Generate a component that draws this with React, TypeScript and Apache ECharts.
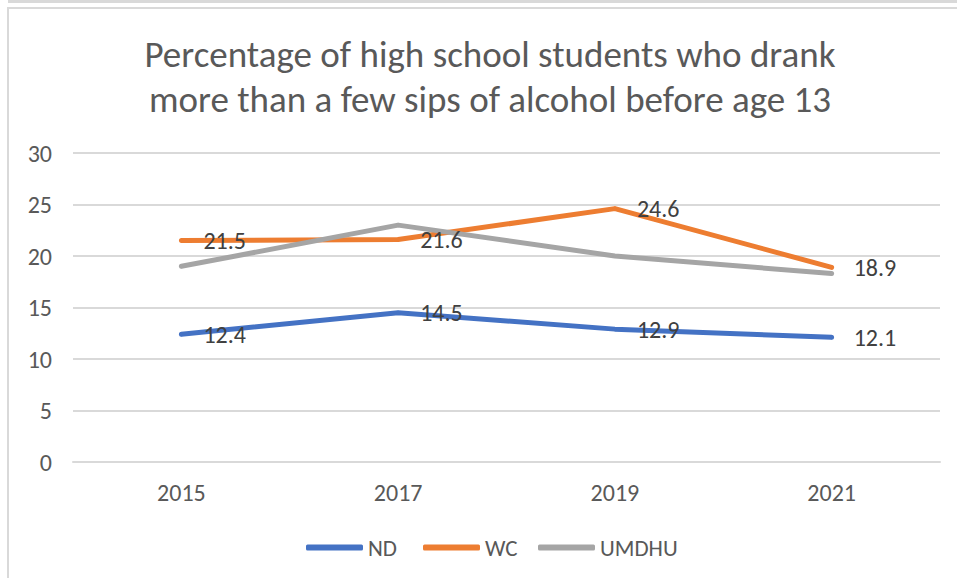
import React, { useEffect, useRef } from "react";
import * as echarts from "echarts";

const years = ["2015", "2017", "2019", "2021"];
const ndValues = [12.4, 14.5, 12.9, 12.1];
const wcValues = [21.5, 21.6, 24.6, 18.9];
const umdhuValues = [19.0, 23.0, 20.0, 18.3];
const seriesNames = ["ND", "WC", "UMDHU"];
const titleText = "Percentage of high school students who drank\nmore than a few sips of alcohol before age 13";

const FONT = "Carlito, Lato, 'Noto Sans', sans-serif";
const legendLefts = [306, 423, 538];

export default function App() {
  const ref = useRef<HTMLDivElement>(null);
  useEffect(() => {
    if (!ref.current) return;
    const chart = echarts.init(ref.current, undefined, { renderer: "svg" });
    const labelCfg = {
      show: true,
      position: "right",
      distance: 20,
      color: "#404040",
      fontSize: 24,
      fontFamily: FONT,
    };
    const mk = (name: string, data: number[], color: string, withLabel: boolean) => ({
      name,
      type: "line",
      data,
      symbol: "circle",
      symbolSize: 4,
      showSymbol: true,
      itemStyle: { color },
      lineStyle: { color, width: 5, cap: "round", join: "round" },
      label: withLabel ? labelCfg : { show: false },
      emphasis: { disabled: true },
      z: 3,
    });
    chart.setOption({
      animation: false,
      backgroundColor: "#ffffff",
      textStyle: { fontFamily: FONT },
      graphic: [
        { type: "rect", shape: { x: 8, y: 0, width: 960, height: 3 }, style: { fill: "#d9d9d9" }, silent: true },
        { type: "rect", shape: { x: 8, y: 8, width: 960, height: 600 }, style: { fill: "none", stroke: "#d9d9d9", lineWidth: 2 }, silent: true },
        {
          type: "text",
          x: 490,
          y: 32,
          silent: true,
          style: {
            text: titleText,
            align: "center",
            verticalAlign: "top",
            fontFamily: FONT,
            fontSize: 37,
            lineHeight: 45,
            fill: "#595959",
          },
        },
      ],
      legend: seriesNames.map((n, i) => ({
        data: [n],
        left: legendLefts[i],
        top: 536,
        padding: 0,
        icon: "roundRect",
        itemWidth: 57,
        itemHeight: 6,
        selectedMode: false,
        textStyle: { fontFamily: FONT, fontSize: 23, color: "#595959" },
      })),
      grid: { left: 73, right: 17, top: 153, bottom: 116 },
      xAxis: {
        type: "category",
        data: years,
        boundaryGap: true,
        axisLine: { show: true, lineStyle: { color: "#d9d9d9", width: 2 } },
        axisTick: { show: false },
        axisLabel: { color: "#595959", fontSize: 24, fontFamily: FONT, margin: 18 },
      },
      yAxis: {
        type: "value",
        min: 0,
        max: 30,
        interval: 5,
        axisLine: { show: false },
        axisTick: { show: false },
        splitLine: { lineStyle: { color: "#d9d9d9", width: 2 } },
        axisLabel: { color: "#595959", fontSize: 24, fontFamily: FONT, margin: 21 },
      },
      series: [
        mk("ND", ndValues, "#4472C4", true),
        mk("WC", wcValues, "#ED7D31", true),
        mk("UMDHU", umdhuValues, "#A5A5A5", false),
      ],
    });
    return () => chart.dispose();
  }, []);
  return (
    <div
      ref={ref}
      style={{ position: "fixed", left: 0, top: 0, width: 957, height: 578 }}
    />
  );
}
